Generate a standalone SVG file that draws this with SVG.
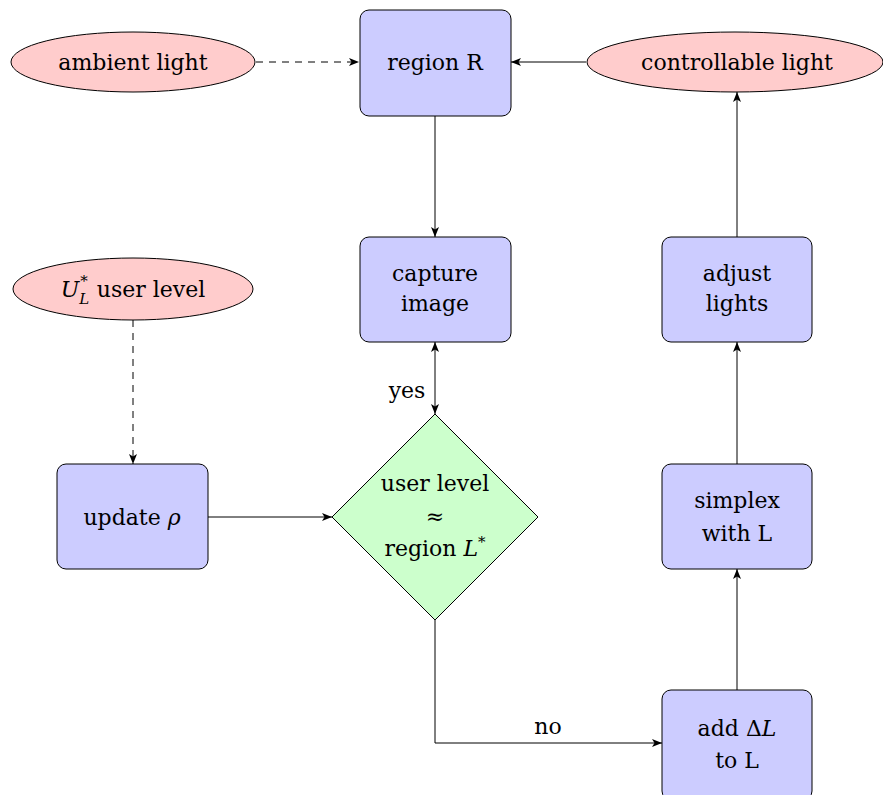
<svg xmlns="http://www.w3.org/2000/svg" width="883" height="795" viewBox="0 0 883 795">
<style>
.box{fill:#ccccff;stroke:#000;stroke-width:1}
.ell{fill:#ffcccc;stroke:#000;stroke-width:1}
.dia{fill:#ccffcc;stroke:#000;stroke-width:1}
text{font-family:'DejaVu Serif',serif;font-size:22px;fill:#000;text-anchor:middle}
.c{fill:none;stroke:#000;stroke-width:1}
.d{stroke-dasharray:7,6}
</style>
<defs>
<marker id="a" viewBox="0 0 10 8" refX="10" refY="4" markerWidth="10" markerHeight="8" markerUnits="userSpaceOnUse" orient="auto-start-reverse">
<path d="M0,0 L10,4 L0,8 L2.5,4 Z" fill="#000"/>
</marker>
</defs>
<rect width="883" height="795" fill="#fff"/>
<g id="connectors">
<line class="c d" x1="256" y1="62" x2="359" y2="62" marker-end="url(#a)"/>
<line class="c" x1="586" y1="62" x2="511" y2="62" marker-end="url(#a)"/>
<line class="c" x1="435" y1="116" x2="435" y2="237" marker-end="url(#a)"/>
<line class="c" x1="435" y1="342" x2="435" y2="414" marker-start="url(#a)" marker-end="url(#a)"/>
<line class="c d" x1="133" y1="320" x2="133" y2="464" marker-end="url(#a)"/>
<line class="c" x1="208" y1="517" x2="332" y2="517" marker-end="url(#a)"/>
<polyline class="c" points="435,620 435,743 662,743" marker-end="url(#a)"/>
<line class="c" x1="737" y1="690" x2="737" y2="569" marker-end="url(#a)"/>
<line class="c" x1="737" y1="464" x2="737" y2="342" marker-end="url(#a)"/>
<line class="c" x1="737" y1="237" x2="737" y2="92" marker-end="url(#a)"/>
<text x="407" y="398">yes</text>
<text x="548" y="734">no</text>
</g>
<g id="ambient">
<ellipse class="ell" cx="133" cy="62" rx="122" ry="30"/>
<text x="133" y="70">ambient light</text>
</g>
<g id="regionR">
<rect class="box" x="360" y="10" width="151" height="106" rx="9"/>
<text x="435" y="70">region R</text>
</g>
<g id="controllable">
<ellipse class="ell" cx="735" cy="62" rx="148" ry="30"/>
<text x="737" y="70">controllable light</text>
</g>
<g id="capture">
<rect class="box" x="360" y="237" width="151" height="105" rx="9"/>
<text x="435" y="281">capture</text>
<text x="435" y="311">image</text>
</g>
<g id="adjust">
<rect class="box" x="662" y="237" width="150" height="105" rx="9"/>
<text x="737" y="281">adjust</text>
<text x="737" y="311">lights</text>
</g>
<g id="userlevel">
<ellipse class="ell" cx="133" cy="289" rx="120" ry="31"/>
<text x="133" y="297"><tspan font-style="italic">U</tspan><tspan font-style="italic" font-size="15" dy="7">L</tspan><tspan font-size="15" dx="-9" dy="-18">*</tspan><tspan dx="9" dy="11">user level</tspan></text>
</g>
<g id="update">
<rect class="box" x="57" y="464" width="151" height="105" rx="9"/>
<text x="132" y="525">update <tspan font-style="italic">ρ</tspan></text>
</g>
<g id="decision">
<polygon class="dia" points="435,414 538,517 435,620 332,517"/>
<text x="435" y="491">user level</text>
<text x="435" y="524" font-size="26">≈</text>
<text x="435" y="556">region <tspan font-style="italic">L</tspan><tspan font-size="15" dy="-9">*</tspan></text>
</g>
<g id="simplex">
<rect class="box" x="662" y="464" width="150" height="105" rx="9"/>
<text x="737" y="508">simplex</text>
<text x="737" y="541">with L</text>
</g>
<g id="add">
<rect class="box" x="662" y="690" width="150" height="110" rx="9"/>
<text x="737" y="736">add Δ<tspan font-style="italic">L</tspan></text>
<text x="737" y="768">to L</text>
</g>
</svg>
